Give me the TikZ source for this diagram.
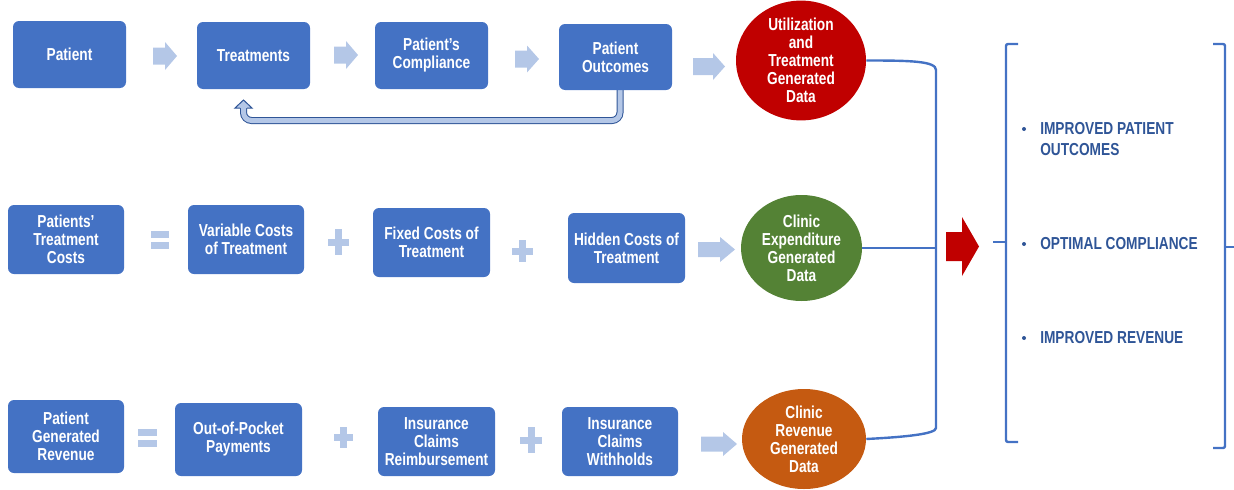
\documentclass[tikz,border=0pt]{standalone}
\usepackage{fontspec}
\usetikzlibrary{shapes.geometric}
\newfontfamily\nf{Liberation Sans}[FakeStretch=0.79]
\definecolor{boxblue}{HTML}{4472C4}
\definecolor{garrow}{HTML}{B4C7E7}
\definecolor{fbdark}{HTML}{2F5597}
\definecolor{redc}{HTML}{C00000}
\definecolor{greenc}{HTML}{548235}
\definecolor{orangec}{HTML}{C55A11}
\definecolor{bultext}{HTML}{2F5597}
\newcommand\bx[6]{\node[box, minimum width={(#4-#2)*0.75pt}, minimum height={(#5-#3)*0.75pt}] (#1) at ({(#2+#4)/2},{(#3+#5)/2}) {#6};}
\newcommand\barrow[7]{\fill[#1] ({#2},{#4-#6/2}) -- ({#3-#7},{#4-#6/2}) -- ({#3-#7},{#4-#5/2}) -- ({#3},{#4}) -- ({#3-#7},{#4+#5/2}) -- ({#3-#7},{#4+#6/2}) -- ({#2},{#4+#6/2}) -- cycle;}
\newcommand\plussign[5]{\fill[garrow] ({#1-#3/2},{#2-#5/2}) rectangle ({#1+#3/2},{#2+#5/2}); \fill[garrow] ({#1-#5/2},{#2-#4/2}) rectangle ({#1+#5/2},{#2+#4/2});}
\newcommand\eqsign[3]{\fill[garrow] ({#1},{#3}) rectangle ({#2},{#3+7}); \fill[garrow] ({#1},{#3+11}) rectangle ({#2},{#3+18});}
\tikzset{
  box/.style={fill=boxblue, rounded corners=4.5pt, inner sep=0pt, align=center, text=white,
    font=\nf\bfseries\fontsize{13}{13.5}\selectfont},
  blob/.style={ellipse, inner sep=0pt, align=center, text=white,
    font=\nf\bfseries\fontsize{13}{13.5}\selectfont},
  link/.style={draw=boxblue, line width=1.8pt},
  bul/.style={anchor=west, inner sep=0pt, align=left, text=bultext,
    font=\nf\bfseries\fontsize{13}{15.75}\selectfont}
}
\begin{document}
\begin{tikzpicture}[x=0.75pt, y=-0.75pt]
\useasboundingbox (0,0) rectangle (1234,489);
% feedback arrow (drawn first, under boxes)
\coordinate (fbS) at (620,85);
\coordinate (fbE) at (243.5,108);
\draw[fbdark, line width=5.25pt, rounded corners=6pt] (fbS) -- (620,120.5) -- (243.5,120.5) -- (fbE);
\draw[garrow, line width=3.75pt, rounded corners=6pt] (fbS) -- (620,120.5) -- (243.5,120.5) -- (fbE);
\fill[garrow] (235,108) -- (243.5,100) -- (252,108) -- cycle;
\draw[fbdark, line width=0.75pt, line join=miter] (240,108) -- (235,108) -- (243.5,100) -- (252,108) -- (247,108);
% row 1
\bx{pat}{13}{21}{126}{88}{Patient}
\bx{treat}{197}{22}{310}{89}{Treatments}
\bx{comp}{375}{22}{488}{89}{Patient’s\\Compliance}
\bx{outc}{559}{24}{672}{90}{Patient\\Outcomes}
\barrow{garrow}{153}{177}{56}{28}{17}{12}
\barrow{garrow}{334}{358}{55}{28}{17}{12}
\barrow{garrow}{515}{539}{59}{27}{17}{12}
\barrow{garrow}{693}{725}{66.5}{27}{17}{12}
\node[blob, fill=redc, minimum width=130*0.75pt, minimum height=107*0.75pt] (util) at (801,60.5) {Utilization\\and\\Treatment\\Generated\\Data};
% row 2
\bx{ptc}{8}{205}{124}{274}{Patients’\\Treatment\\Costs}
\eqsign{151}{169}{231}
\bx{var}{188}{205}{304}{274}{Variable Costs\\of Treatment}
\plussign{338}{242}{21}{26}{7}
\bx{fix}{373}{208}{490}{277}{Fixed Costs of\\Treatment}
\plussign{522.5}{251}{21}{22}{7}
\bx{hid}{568}{213}{685}{283}{Hidden Costs of\\Treatment}
\barrow{garrow}{698}{735}{249.5}{25}{15}{15}
\node[blob, fill=greenc, minimum width=121*0.75pt, minimum height=106*0.75pt] (cexp) at (801.5,248) {Clinic\\Expenditure\\Generated\\Data};
% row 3
\bx{pgr}{8}{400}{124}{473}{Patient\\Generated\\Revenue}
\eqsign{138}{157}{429}
\bx{oop}{175}{403}{302}{476}{Out-of-Pocket\\Payments}
\plussign{343.5}{437}{19}{21}{7}
\bx{icr}{378}{407}{495}{476}{Insurance\\Claims\\Reimbursement}
\plussign{531}{440}{22}{26}{7}
\bx{icw}{562}{407}{678}{476}{Insurance\\Claims\\Withholds}
\barrow{garrow}{701}{737}{444}{24}{15}{14}
\node[blob, fill=orangec, minimum width=124*0.75pt, minimum height=100*0.75pt] (crev) at (804,439) {Clinic\\Revenue\\Generated\\Data};
% collecting bracket
\coordinate (jT) at (936,70);
\coordinate (jM) at (936,248);
\coordinate (jB) at (936,428);
\draw[link] (util.east) .. controls (910,60.5) and (936,61) .. (jT) -- (jB) .. controls (936,434) and (905,437) .. (crev.east);
\draw[link] (cexp.east) -- (jM);
% red arrow
\barrow{redc}{946}{979}{246.5}{59}{29}{17}
% result brackets
\coordinate (lbT) at (1006,44);
\coordinate (lbB) at (1006,442);
\draw[link, rounded corners=1.5pt] (1018,44) -- (lbT) -- (lbB) -- (1018,442);
\draw[link] (993,242) -- (1006,242);
\coordinate (rbT) at (1225,44);
\coordinate (rbB) at (1225,448);
\draw[link, rounded corners=1.5pt] (1213,44) -- (rbT) -- (rbB) -- (1213,448);
\draw[link] (1225,247) -- (1234,247);
% bullets
\fill[bultext] (1024,129) circle (2);
\fill[bultext] (1024,244) circle (2);
\fill[bultext] (1024,338) circle (2);
\node[bul] (b1) at (1040,139.5) {IMPROVED PATIENT\\OUTCOMES};
\node[bul] (b2) at (1040,244) {OPTIMAL COMPLIANCE};
\node[bul] (b3) at (1040,338) {IMPROVED REVENUE};
\end{tikzpicture}
\end{document}
